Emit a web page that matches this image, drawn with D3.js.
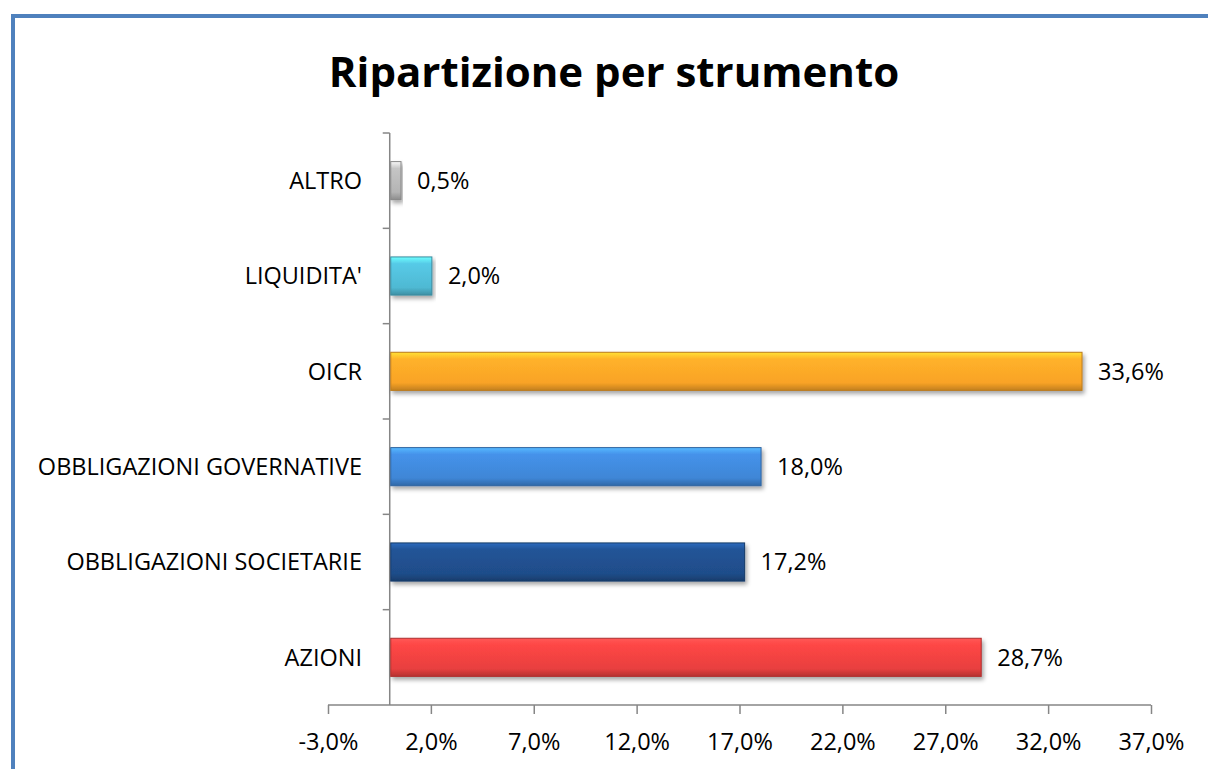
<!doctype html>
<html>
<head>
<meta charset="UTF-8">
<title>Ripartizione per strumento</title>
<script src="https://cdn.jsdelivr.net/npm/d3@7"></script>
<style>
  body { margin: 0; background: #fff; }
  svg { display: block; font-family: "Open Sans", "Liberation Sans", sans-serif; }
  .axis path, .axis line { stroke: #868686; stroke-width: 1.5; }
  .axis text { fill: #000; font-size: 23.5px; font-family: "Open Sans", sans-serif; }
</style>
</head>
<body>
<svg id="chart" width="1208" height="769"></svg>
<script>
// dati (dal basso verso l'alto come nel grafico)
var categories = ["AZIONI", "OBBLIGAZIONI SOCIETARIE", "OBBLIGAZIONI GOVERNATIVE", "OICR", "LIQUIDITA'", "ALTRO"];
var values = [28.7, 17.2, 18.0, 33.6, 2.0, 0.5];
var barColors = ["#e8403f", "#1f4d8a", "#3f86d6", "#f9a326", "#4fb9d3", "#b4b4b4"];
var tickValues = [-3, 2, 7, 12, 17, 22, 27, 32, 37];

var svg = d3.select("#chart");

// cornice blu
svg.append("path")
  .attr("d", "M13,780 L13,16 L1220,16")
  .attr("fill", "none")
  .attr("stroke", "#4f81bd")
  .attr("stroke-width", 4);

svg.append("text")
  .attr("x", 614)
  .attr("y", 87)
  .attr("text-anchor", "middle")
  .style("font-size", "42px")
  .style("font-weight", "bold")
  .text("Ripartizione per strumento");

var x = d3.scaleLinear().domain([-3, 37]).range([328, 1151]);
var y = d3.scaleBand()
  .domain(categories.slice().reverse())
  .range([133, 705])
  .paddingInner(0.6)
  .paddingOuter(0.3);

var fmt = function(v) { return d3.format(".1f")(v).replace(".", ",").replace("\u2212", "-") + "%"; };

var defs = svg.append("defs");
var shadow = defs.append("filter").attr("id", "shadow").attr("x", "-5%").attr("y", "-20%").attr("width", "115%").attr("height", "160%");
shadow.append("feDropShadow").attr("dx", 2).attr("dy", 3).attr("stdDeviation", 2).attr("flood-color", "#000").attr("flood-opacity", 0.35);

barColors.forEach(function(c, i) {
  var g = defs.append("linearGradient").attr("id", "grad" + i).attr("x1", 0).attr("x2", 0).attr("y1", 0).attr("y2", 1);
  var base = d3.color(c);
  g.append("stop").attr("offset", "0%").attr("stop-color", base.brighter(0.9));
  g.append("stop").attr("offset", "18%").attr("stop-color", base.brighter(0.25));
  g.append("stop").attr("offset", "80%").attr("stop-color", base);
  g.append("stop").attr("offset", "100%").attr("stop-color", base.darker(0.7));
});

// asse x
var xAxis = svg.append("g")
  .attr("class", "axis")
  .attr("transform", "translate(0,705)")
  .call(d3.axisBottom(x).tickValues(tickValues).tickSize(9).tickSizeOuter(0).tickPadding(19).tickFormat(fmt));
xAxis.select(".domain").attr("d", "M" + x(-3) + ",0H" + x(37));

// asse y con tacche ai confini delle categorie
var yAxis = svg.append("g").attr("class", "axis");
yAxis.append("line")
  .attr("x1", x(0)).attr("x2", x(0))
  .attr("y1", 133).attr("y2", 705);
var bounds = d3.range(categories.length).map(function(i) { return 133 + i * (572 / categories.length); });
yAxis.selectAll(".tk").data(bounds).enter().append("line")
  .attr("x1", x(0) - 7).attr("x2", x(0))
  .attr("y1", function(d) { return d; }).attr("y2", function(d) { return d; });

svg.selectAll(".cat").data(categories).enter().append("text")
  .attr("x", 362)
  .attr("y", function(d) { return y(d) + y.bandwidth() / 2; })
  .attr("dy", "0.35em")
  .attr("text-anchor", "end")
  .style("font-size", "23.5px")
  .text(function(d) { return d; });

var bars = svg.selectAll(".bar").data(categories).enter().append("g");
bars.append("rect")
  .attr("x", x(0) + 1)
  .attr("y", function(d) { return y(d); })
  .attr("width", function(d, i) { return x(values[i]) - x(0); })
  .attr("height", y.bandwidth())
  .attr("fill", function(d, i) { return "url(#grad" + i + ")"; })
  .attr("stroke", function(d, i) { return d3.color(barColors[i]).darker(0.8); })
  .attr("stroke-width", 1)
  .attr("filter", "url(#shadow)");

svg.selectAll(".val").data(categories).enter().append("text")
  .attr("x", function(d, i) { return x(values[i]) + 17; })
  .attr("y", function(d) { return y(d) + y.bandwidth() / 2; })
  .attr("dy", "0.35em")
  .style("font-size", "23.5px")
  .text(function(d, i) { return fmt(values[i]); });
</script>
</body>
</html>
